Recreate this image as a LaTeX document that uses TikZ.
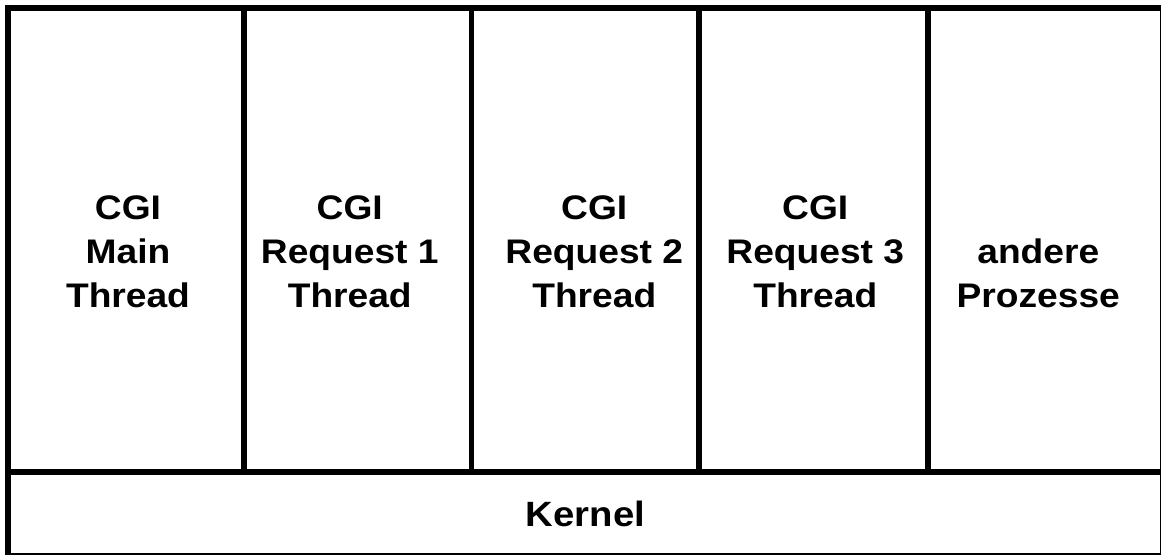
\documentclass[tikz,border=0pt]{standalone}
\usepackage{fontspec}
\setmainfont{Liberation Sans}[FakeStretch=1.09]
\usetikzlibrary{positioning}

\begin{document}
\begin{tikzpicture}
	\tikzset{
	every node/.style={inner sep=0pt, outer sep=0pt},
	cell/.style={draw, line width=3.4pt, anchor=north west, minimum height=9.28cm}, % one column of the upper row
	kernelbox/.style={draw, line width=3.4pt, anchor=north west, minimum width=23.1cm, minimum height=1.68cm},
	celltext/.style={align=center, font=\bfseries\fontsize{19.4}{25}\selectfont} % bold labels, wide line pitch
	}
	\useasboundingbox (0,0) rectangle (23.22,-11.08);
	% upper row of columns
	\node[cell, minimum width=4.72cm]  (main) at (0.16,-0.16) {};
	\node[cell, minimum width=4.55cm]  (req1) at (main.north east) {};
	\node[cell, minimum width=4.55cm]  (req2) at (req1.north east) {};
	\node[cell, minimum width=4.57cm]  (req3) at (req2.north east) {};
	\node[cell, minimum width=4.71cm]  (other) at (req3.north east) {};
	\node[kernelbox] (kernel) at (main.south west) {};
	% labels
	\node[celltext, yshift=-0.24cm, xshift=0.04cm]  (main-txt)  at (main.center)  {CGI\\Main\\Thread};
	\node[celltext, yshift=-0.24cm, xshift=-0.16cm] (req1-txt)  at (req1.center)  {CGI\\Request 1\\Thread};
	\node[celltext, yshift=-0.24cm, xshift=0.18cm]  (req2-txt)  at (req2.center)  {CGI\\Request 2\\Thread};
	\node[celltext, yshift=-0.24cm, xshift=0.04cm]  (req3-txt)  at (req3.center)  {CGI\\Request 3\\Thread};
	\node[celltext, yshift=-0.24cm, xshift=-0.14cm] (other-txt) at (other.center) {\phantom{CGI}\\andere\\Prozesse};
	\node[celltext, font=\bfseries\fontsize{20}{20}\selectfont] (kernel-txt) at (kernel.center) {Kernel};
\end{tikzpicture}
\end{document}
